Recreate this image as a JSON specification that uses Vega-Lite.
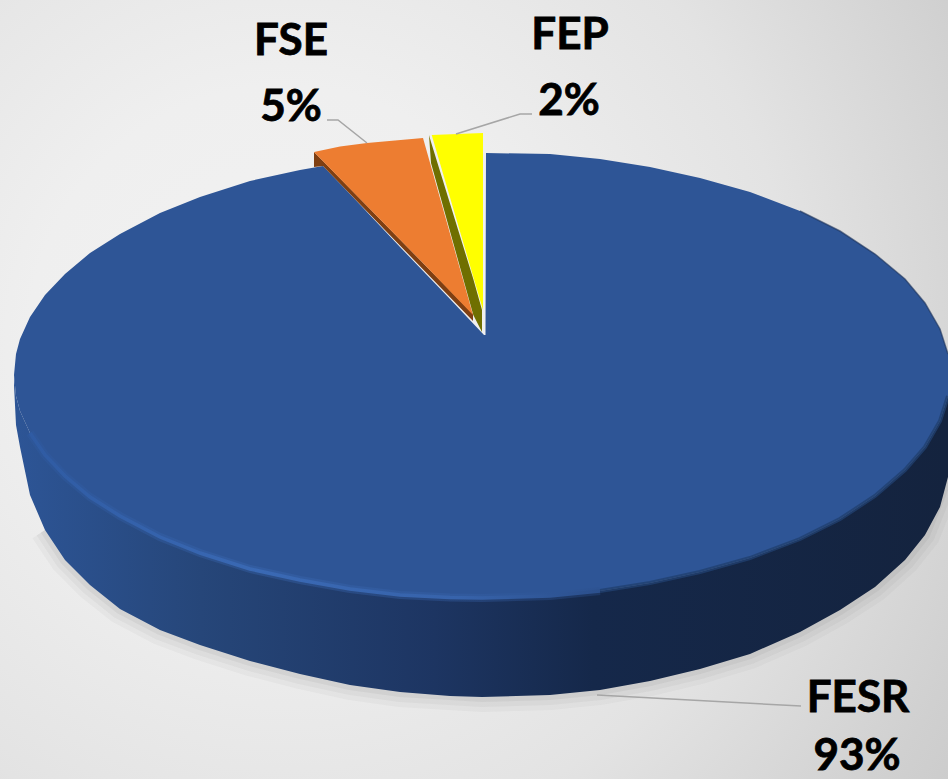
{
"$schema":"https://vega.github.io/schema/vega-lite/v6.json",
"width":948,"height":779,"padding":0,
"autosize":{"type":"none"},
"config":{"view":{"stroke":null}},
"datasets":{
"bg":[{"x":0,"x2":948,"y":0,"y2":779}],
"side":[{"x":14,"y":375,"y2":385},{"x":16,"y":396,"y2":425},{"x":20,"y":411,"y2":447},{"x":30,"y":433,"y2":495},{"x":45,"y":455,"y2":530},{"x":65,"y":476,"y2":560},{"x":90,"y":497,"y2":585},{"x":120,"y":516,"y2":609},{"x":160,"y":537,"y2":630},{"x":200,"y":553,"y2":645},{"x":250,"y":569,"y2":661},{"x":300,"y":580,"y2":674},{"x":350,"y":589,"y2":685},{"x":400,"y":595,"y2":692},{"x":450,"y":597.5,"y2":696},{"x":482,"y":598,"y2":697},{"x":550,"y":596,"y2":695},{"x":600,"y":591,"y2":690},{"x":650,"y":583,"y2":681},{"x":700,"y":572,"y2":669},{"x":750,"y":558,"y2":654},{"x":800,"y":539,"y2":632},{"x":840,"y":519,"y2":610},{"x":875,"y":496,"y2":587},{"x":905,"y":470,"y2":560},{"x":925,"y":447,"y2":535},{"x":940,"y":421,"y2":507},{"x":948,"y":396,"y2":477}],
"shadow":[{"x":45,"y":530},{"x":65,"y":560},{"x":90,"y":585},{"x":120,"y":609},{"x":160,"y":630},{"x":200,"y":645},{"x":250,"y":661},{"x":300,"y":674},{"x":350,"y":685},{"x":400,"y":692},{"x":482,"y":697},{"x":550,"y":695},{"x":600,"y":690},{"x":650,"y":681},{"x":700,"y":669},{"x":750,"y":654},{"x":800,"y":632},{"x":840,"y":610},{"x":875,"y":587},{"x":905,"y":560},{"x":925,"y":535},{"x":948,"y":477}],
"face":[{"x":14,"y":375,"y2":375},{"x":16,"y":354,"y2":396},{"x":20,"y":339,"y2":411},{"x":30,"y":317,"y2":433},{"x":45,"y":295,"y2":455},{"x":65,"y":274,"y2":476},{"x":90,"y":253,"y2":497},{"x":120,"y":234,"y2":516},{"x":160,"y":213,"y2":537},{"x":200,"y":197,"y2":553},{"x":250,"y":181,"y2":569},{"x":300,"y":170,"y2":580},{"x":323,"y":166,"y2":584},{"x":350,"y":194,"y2":589},{"x":400,"y":247,"y2":595},{"x":450,"y":299,"y2":597.5},{"x":484,"y":335,"y2":598},{"x":485.5,"y":335,"y2":598},{"x":486,"y":153,"y2":598},{"x":550,"y":154,"y2":596},{"x":600,"y":159,"y2":591},{"x":650,"y":167,"y2":583},{"x":700,"y":178,"y2":572},{"x":750,"y":192,"y2":558},{"x":800,"y":211,"y2":539},{"x":840,"y":231,"y2":519},{"x":875,"y":254,"y2":496},{"x":905,"y":279,"y2":470},{"x":925,"y":303,"y2":447},{"x":940,"y":329,"y2":421},{"x":948,"y":354,"y2":396}],
"rim":[{"x":30,"y":433},{"x":45,"y":455},{"x":65,"y":476},{"x":90,"y":497},{"x":120,"y":516},{"x":160,"y":537},{"x":200,"y":553},{"x":250,"y":569},{"x":300,"y":580},{"x":350,"y":589},{"x":400,"y":595},{"x":450,"y":597.5},{"x":482,"y":598},{"x":550,"y":596},{"x":600,"y":591}],
"rimRight":[{"x":600,"y":591},{"x":650,"y":583},{"x":700,"y":572},{"x":750,"y":558},{"x":800,"y":539},{"x":840,"y":519},{"x":875,"y":496},{"x":905,"y":470},{"x":925,"y":447},{"x":940,"y":421},{"x":948,"y":396}],
"edge":[{"x":800,"y":211},{"x":840,"y":231},{"x":875,"y":254},{"x":905,"y":279},{"x":925,"y":303},{"x":940,"y":329},{"x":948,"y":354}],
"fseSide":[{"x":314,"y":152,"y2":167},{"x":323,"y":161,"y2":166},{"x":473,"y":314,"y2":321}],
"fse":[{"x":314,"y":152,"y2":152},{"x":340,"y":146.5,"y2":178.5},{"x":367,"y":143,"y2":206},{"x":395,"y":140.5,"y2":234.5},{"x":423,"y":138,"y2":263},{"x":473,"y":315,"y2":315}],
"fepSide":[{"x":429,"y":135,"y2":135},{"x":431,"y":142,"y2":163},{"x":473.3,"y":279,"y2":315},{"x":482,"y":310,"y2":332}],
"fep":[{"x":431.7,"y":135,"y2":135},{"x":483,"y":133,"y2":310}],
"leaders":[{"id":"FSE","x":327,"y":120},{"id":"FSE","x":338,"y":120},{"id":"FSE","x":367,"y":143},{"id":"FEP","x":456,"y":134},{"id":"FEP","x":520,"y":114},{"id":"FEP","x":532,"y":114},{"id":"FESR","x":597,"y":695},{"id":"FESR","x":801,"y":706}],
"labels":[{"t":"FSE","x":291,"y":55},{"t":"5%","x":291,"y":121},{"t":"FEP","x":570,"y":49},{"t":"2%","x":569,"y":115},{"t":"FESR","x":858,"y":712},{"t":"93%","x":857,"y":770}]
},
"encoding":{
"x":{"field":"x","type":"quantitative","scale":{"domain":[0,948],"nice":false,"zero":false},"axis":null},
"y":{"field":"y","type":"quantitative","scale":{"domain":[779,0],"nice":false,"zero":false},"axis":null}
},
"layer":[
{"data":{"name":"bg"},"mark":{"type":"rect","color":{"gradient":"radial","x1":0.3,"y1":0.45,"r1":0,"x2":0.3,"y2":0.45,"r2":0.9,"stops":[{"offset":0,"color":"#f2f2f2"},{"offset":0.3,"color":"#efefef"},{"offset":0.6,"color":"#e3e3e3"},{"offset":0.87,"color":"#d0d0d0"},{"offset":1,"color":"#c8c8c8"}]}},"encoding":{"x2":{"field":"x2"},"y2":{"field":"y2"}}},
{"data":{"name":"shadow"},"mark":{"type":"line","stroke":"#555555","strokeWidth":30,"opacity":0.04}},
{"data":{"name":"shadow"},"mark":{"type":"line","stroke":"#555555","strokeWidth":20,"opacity":0.05}},
{"data":{"name":"shadow"},"mark":{"type":"line","stroke":"#555555","strokeWidth":10,"opacity":0.07}},
{"data":{"name":"side"},"mark":{"type":"area","color":{"gradient":"linear","x1":0,"y1":0,"x2":1,"y2":0,"stops":[{"offset":0,"color":"#2d5596"},{"offset":0.2,"color":"#264679"},{"offset":0.45,"color":"#1d3562"},{"offset":0.62,"color":"#15284a"},{"offset":1,"color":"#14233e"}]}},"encoding":{"y2":{"field":"y2"}}},
{"data":{"name":"face"},"mark":{"type":"area","color":"#2e5596"},"encoding":{"y2":{"field":"y2"}}},
{"data":{"name":"rimRight"},"mark":{"type":"line","stroke":"#21406f","strokeWidth":4,"opacity":0.8}},
{"data":{"name":"rim"},"mark":{"type":"line","strokeWidth":8,"opacity":0.35,"stroke":{"gradient":"linear","x1":0,"y1":0,"x2":1,"y2":0,"stops":[{"offset":0,"color":"#2f5ba3"},{"offset":0.4,"color":"#3a69b4"},{"offset":0.75,"color":"#3763ab"},{"offset":1,"color":"#2b4f8c"}]}}},
{"data":{"name":"rim"},"mark":{"type":"line","strokeWidth":3.5,"stroke":{"gradient":"linear","x1":0,"y1":0,"x2":1,"y2":0,"stops":[{"offset":0,"color":"#2f5ba3"},{"offset":0.4,"color":"#3a69b4"},{"offset":0.75,"color":"#3763ab"},{"offset":1,"color":"#2b4f8c"}]}}},
{"data":{"name":"edge"},"mark":{"type":"line","stroke":"#1b3157","strokeWidth":1.5,"opacity":0.6}},
{"data":{"name":"fseSide"},"mark":{"type":"area","color":"#7f3f12"},"encoding":{"y2":{"field":"y2"}}},
{"data":{"name":"fse"},"mark":{"type":"area","color":"#ed7d31"},"encoding":{"y2":{"field":"y2"}}},
{"data":{"name":"fepSide"},"mark":{"type":"area","color":"#6f6f00"},"encoding":{"y2":{"field":"y2"}}},
{"data":{"name":"fep"},"mark":{"type":"area","color":"#ffff00"},"encoding":{"y2":{"field":"y2"}}},
{"data":{"name":"leaders"},"mark":{"type":"line","stroke":"#a6a6a6","strokeWidth":1.5},"encoding":{"detail":{"field":"id"}}},
{"data":{"name":"labels"},"mark":{"type":"text","font":"Lato","fontWeight":"bold","fontSize":44,"align":"center","baseline":"alphabetic","color":"#000000","stroke":"#000000","strokeWidth":0.8},"encoding":{"text":{"field":"t"}}}
]
}
